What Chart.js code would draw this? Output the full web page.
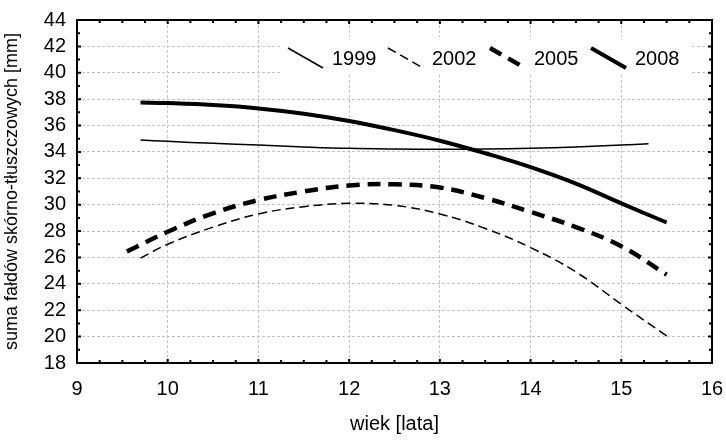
<!DOCTYPE html>
<html>
<head>
<meta charset="utf-8">
<script src="https://cdn.jsdelivr.net/npm/chart.js@4.4.1/dist/chart.umd.min.js"></script>
<style>
  html, body { margin: 0; padding: 0; background: #fff; }
  #wrap { width: 726px; height: 440px; }
</style>
</head>
<body>
<div id="wrap"><canvas id="chart"></canvas></div>
<script>
// wiek [lata] / suma fałdów [mm]
const age1999 = [9.7, 10, 10.5, 11, 11.5, 12, 12.5, 13, 13.5, 14, 14.5, 15, 15.3];
const fold1999 = [34.9, 34.8, 34.65, 34.52, 34.38, 34.27, 34.22, 34.2, 34.22, 34.28, 34.38, 34.52, 34.62];

const age2002 = [9.7, 10, 10.5, 11, 11.5, 12, 12.5, 13, 13.5, 14, 14.5, 15, 15.5];
const fold2002 = [25.95, 27.0, 28.3, 29.3, 29.85, 30.1, 29.95, 29.3, 28.2, 26.75, 24.9, 22.45, 20.05];

const age2005 = [9.55, 10, 10.5, 11, 11.5, 12, 12.5, 13, 13.5, 14, 14.5, 15, 15.5];
const fold2005 = [26.45, 27.95, 29.35, 30.35, 31.0, 31.45, 31.55, 31.3, 30.5, 29.45, 28.3, 26.85, 24.7];

const age2008 = [9.7, 10, 10.5, 11, 11.5, 12, 12.5, 13, 13.5, 14, 14.5, 15, 15.5];
const fold2008 = [37.75, 37.7, 37.55, 37.3, 36.9, 36.35, 35.65, 34.85, 33.9, 32.85, 31.6, 30.1, 28.65];

const years = ['1999', '2002', '2005', '2008'];
const xMin = 9, xMax = 16, yMin = 18, yMax = 44;

const FONT = "'Liberation Sans', Arial, sans-serif";

const pts = (xs, ys) => xs.map((x, i) => ({ x, y: ys[i] }));

const series = [
  { data: pts(age1999, fold1999), width: 1.5, dash: [] },
  { data: pts(age2002, fold2002), width: 1.5, dash: [9, 5] },
  { data: pts(age2005, fold2005), width: 4.5, dash: [13, 8] },
  { data: pts(age2008, fold2008), width: 4, dash: [] }
];

// ramka wykresu + krótkie znaczniki do środka
const framePlugin = {
  id: 'frame',
  afterDatasetsDraw(chart) {
    const { ctx, chartArea: a, scales: { x, y } } = chart;
    ctx.save();
    ctx.strokeStyle = '#000';
    ctx.lineWidth = 2;
    ctx.beginPath();
    for (let v = xMin; v <= xMax + 1e-9; v += 0.25) {
      const px = x.getPixelForValue(v);
      const len = Math.abs(v - Math.round(v)) < 1e-9 ? 4 : 3;
      ctx.moveTo(px, a.top); ctx.lineTo(px, a.top + len);
      ctx.moveTo(px, a.bottom); ctx.lineTo(px, a.bottom - len);
    }
    for (let v = yMin; v <= yMax; v++) {
      const py = y.getPixelForValue(v);
      const len = v % 2 === 0 ? 4 : 3;
      ctx.moveTo(a.left, py); ctx.lineTo(a.left + len, py);
      ctx.moveTo(a.right, py); ctx.lineTo(a.right - len, py);
    }
    ctx.stroke();
    ctx.strokeRect(a.left, a.top, a.right - a.left, a.bottom - a.top);
    ctx.restore();
  }
};

// legenda z ukośnymi odcinkami
const legendPlugin = {
  id: 'diagLegend',
  afterDatasetsDraw(chart) {
    const { ctx, chartArea: a } = chart;
    ctx.save();
    ctx.fillStyle = '#fff';
    ctx.fillRect(280, a.top + 17, 410, 38);
    const starts = [288, 388, 490, 591];
    chart.data.datasets.forEach((ds, i) => {
      const x0 = starts[i], y0 = 48;
      ctx.strokeStyle = '#000';
      ctx.lineWidth = ds.borderWidth;
      ctx.setLineDash(ds.borderDash || []);
      ctx.beginPath();
      ctx.moveTo(x0, y0);
      ctx.lineTo(x0 + 35, y0 + 20);
      ctx.stroke();
      ctx.setLineDash([]);
      ctx.fillStyle = '#000';
      ctx.font = '20px ' + FONT;
      ctx.textBaseline = 'middle';
      ctx.fillText(ds.label, x0 + 44, 59);
    });
    ctx.restore();
  }
};

const datasets = series.map((s, i) => ({
  label: years[i],
  data: s.data,
  borderColor: '#000',
  borderWidth: s.width,
  borderDash: s.dash,
  pointRadius: 0,
  fill: false,
  tension: 0.4
}));

new Chart(document.getElementById('chart'), {
  type: 'line',
  data: { datasets },
  options: {
    responsive: true,
    maintainAspectRatio: false,
    animation: false,
    layout: { padding: { left: 0, top: 20, right: 14, bottom: 0 } },
    plugins: { legend: { display: false }, tooltip: { enabled: false } },
    scales: {
      x: {
        type: 'linear',
        min: xMin, max: xMax,
        afterFit: s => { s.height = 77; s.paddingLeft = 0; s.paddingRight = 0; },
        ticks: { stepSize: 1, autoSkip: false, color: '#000', font: { family: FONT, size: 20 }, padding: 14, maxRotation: 0 },
        grid: { color: '#c4c4c4', lineWidth: 1, drawTicks: false },
        border: { display: false, dash: [3, 2] },
        title: { display: true, text: 'wiek [lata]', color: '#000', font: { family: FONT, size: 20 }, padding: { top: 0, bottom: 4 } }
      },
      y: {
        min: yMin, max: yMax,
        afterFit: s => { s.width = 77; s.paddingTop = 0; s.paddingBottom = 0; },
        ticks: { stepSize: 2, autoSkip: false, color: '#000', font: { family: FONT, size: 20 }, padding: 11 },
        grid: { color: '#c4c4c4', lineWidth: 1, drawTicks: false },
        border: { display: false, dash: [3, 2] },
        title: { display: true, text: 'suma fałdów skórno-tłuszczowych [mm]', color: '#000', font: { family: FONT, size: 18 }, padding: { top: 1, bottom: 0 } }
      }
    }
  },
  plugins: [framePlugin, legendPlugin]
});
</script>
</body>
</html>
